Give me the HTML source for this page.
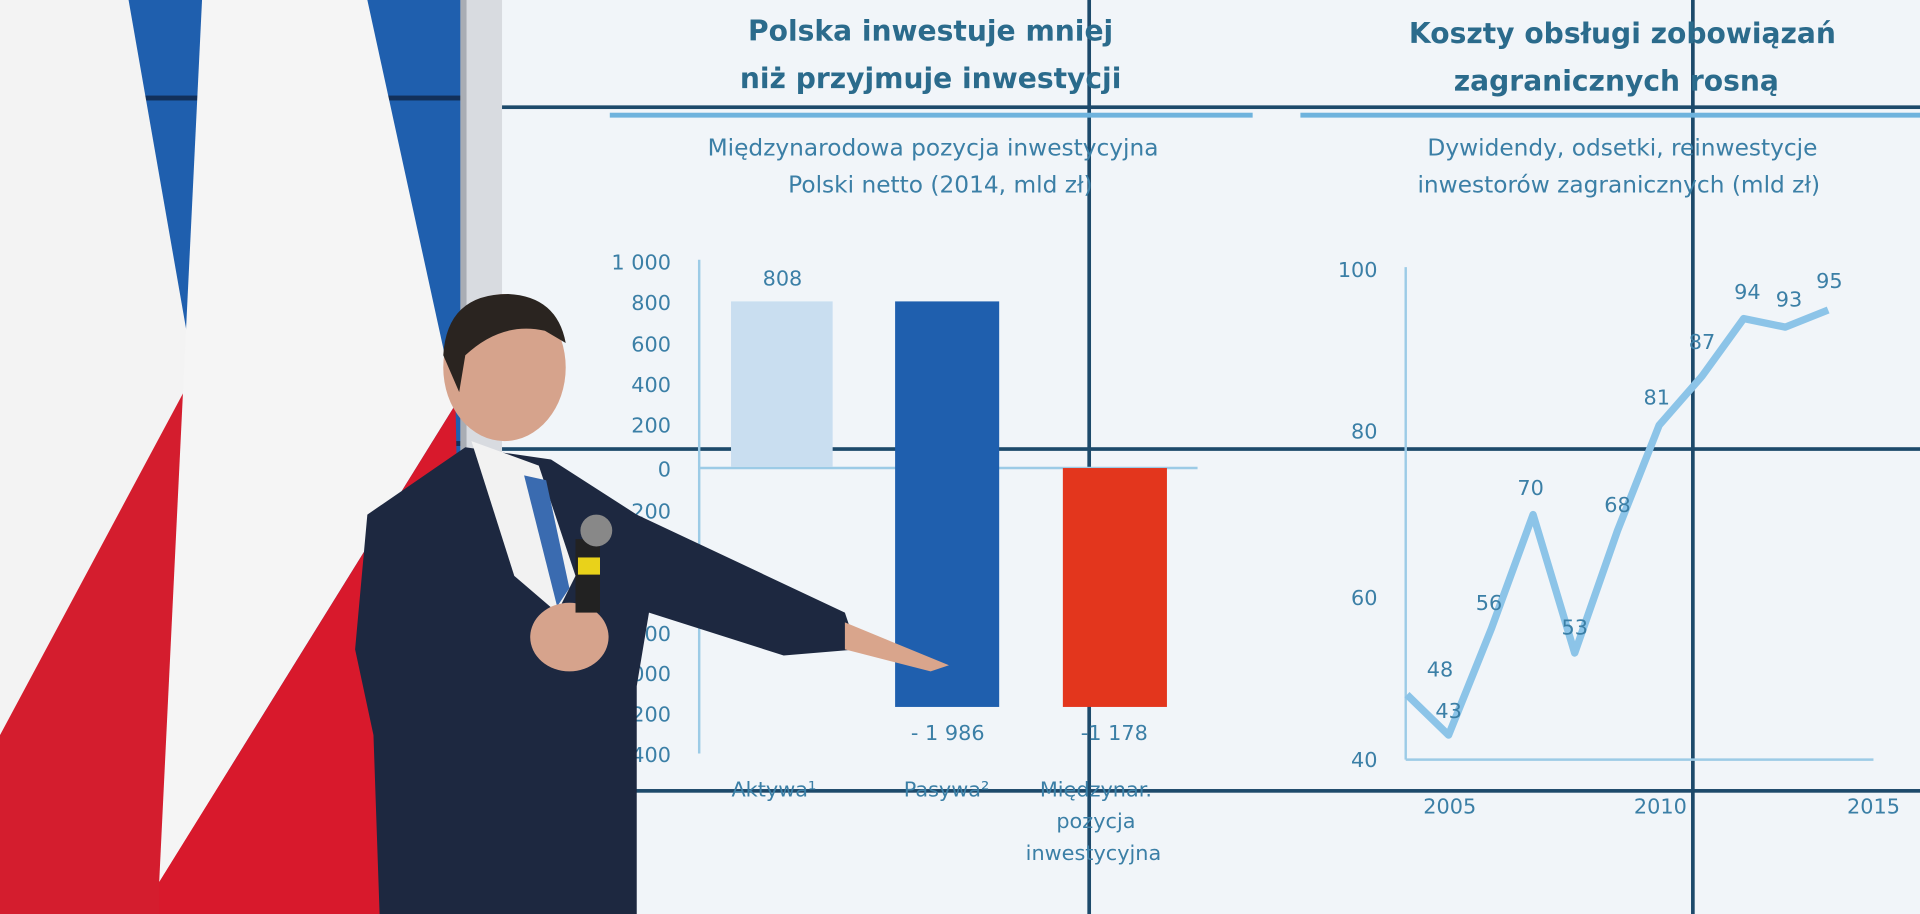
<!DOCTYPE html>
<html><head><meta charset="utf-8"><style>
html,body{margin:0;padding:0;width:1920px;height:914px;overflow:hidden;background:#eef3f7}
svg{display:block}
text{font-family:"DejaVu Sans","Liberation Sans",sans-serif}
</style></head><body>
<svg width="1920" height="914" viewBox="0 0 1568 746" preserveAspectRatio="none">
<rect x="405" y="0" width="1163" height="746" fill="#eef3f7"/>
<rect x="405" y="0" width="1163" height="746" fill="#f4f7fa" opacity="0.6"/>
<rect x="0" y="0" width="380" height="746" fill="#1f5fae"/>
<rect x="0" y="78" width="380" height="4" fill="#12305a"/>
<rect x="0" y="360" width="380" height="4" fill="#12305a"/>
<polygon points="0,0 105,0 175,400 0,600" fill="#f3f3f3"/>
<polygon points="0,600 150,320 185,430 185,746 0,746" fill="#d41d2e"/>
<polygon points="165,0 300,0 372,330 130,720" fill="#f5f5f5"/>
<polygon points="130,720 372,330 380,746 130,746" fill="#d8192c"/>
<rect x="376" y="0" width="34" height="746" fill="#d8dbe0"/>
<rect x="376" y="0" width="5" height="746" fill="#a9adb4"/>
<g fill="#1d4a6b">
<rect x="410" y="86" width="1158" height="3"/>
<rect x="410" y="365" width="1158" height="3"/>
<rect x="410" y="644" width="1158" height="3"/>
<rect x="888" y="0" width="3" height="746"/>
<rect x="1381" y="0" width="3" height="746"/>
</g>
<g fill="#2b6b8c" font-weight="bold" font-size="23" text-anchor="middle">
<text x="760" y="33">Polska inwestuje mniej</text>
<text x="760" y="72">niż przyjmuje inwestycji</text>
<text x="1325" y="35">Koszty obsługi zobowiązań</text>
<text x="1320" y="74">zagranicznych rosną</text>
</g>
<rect x="498" y="92" width="525" height="4" fill="#6fb3dd"/>
<rect x="1062" y="92" width="506" height="4" fill="#6fb3dd"/>
<g fill="#3b7fa6" font-size="19" text-anchor="middle">
<text x="762" y="127">Międzynarodowa pozycja inwestycyjna</text>
<text x="768" y="157">Polski netto (2014, mld zł)</text>
<text x="1325" y="127">Dywidendy, odsetki, reinwestycje</text>
<text x="1322" y="157">inwestorów zagranicznych (mld zł)</text>
</g>
<line x1="571" y1="212" x2="571" y2="615" stroke="#9ccbe6" stroke-width="2"/>
<line x1="571" y1="382" x2="978" y2="382" stroke="#9ccbe6" stroke-width="2"/>
<g fill="#3b7fa6" font-size="17" text-anchor="end">
<text x="548" y="220">1 000</text><text x="548" y="253">800</text><text x="548" y="287">600</text>
<text x="548" y="320">400</text><text x="548" y="353">200</text><text x="548" y="389">0</text>
<text x="548" y="423">-200</text><text x="548" y="523">-800</text><text x="548" y="556">-1 000</text>
<text x="548" y="589">-1 200</text><text x="548" y="622">-1 400</text>
</g>
<rect x="597" y="246" width="83" height="135" fill="#c9def0"/>
<rect x="731" y="246" width="85" height="331" fill="#1f5fae"/>
<rect x="868" y="382" width="85" height="195" fill="#e3361d"/>
<g fill="#3b7fa6" font-size="17" text-anchor="middle">
<text x="639" y="233">808</text><text x="774" y="604">- 1 986</text><text x="910" y="604">-1 178</text>
<text x="632" y="650">Aktywa¹</text><text x="773" y="650">Pasywa²</text>
<text x="895" y="650">Międzynar.</text><text x="895" y="676">pozycja</text><text x="893" y="702">inwestycyjna</text>
</g>
<line x1="1148" y1="218" x2="1148" y2="620" stroke="#9ccbe6" stroke-width="2"/>
<line x1="1148" y1="620" x2="1530" y2="620" stroke="#9ccbe6" stroke-width="2"/>
<g fill="#3b7fa6" font-size="17" text-anchor="end">
<text x="1125" y="226">100</text><text x="1125" y="358">80</text><text x="1125" y="494">60</text><text x="1125" y="626">40</text>
</g>
<g fill="#3b7fa6" font-size="17" text-anchor="middle">
<text x="1184" y="664">2005</text><text x="1356" y="664">2010</text><text x="1530" y="664">2015</text>
</g>
<polyline fill="none" stroke="#8cc4e8" stroke-width="6" stroke-linejoin="round"
points="1149,567 1183,600 1218,513 1252,420 1286,533 1321,433 1355,347 1390,307 1424,260 1458,267 1493,253"/>
<g fill="#3b7fa6" font-size="17" text-anchor="middle">
<text x="1176" y="552">48</text><text x="1183" y="586">43</text><text x="1216" y="498">56</text>
<text x="1250" y="404">70</text><text x="1286" y="518">53</text><text x="1321" y="418">68</text>
<text x="1353" y="330">81</text><text x="1390" y="285">87</text><text x="1427" y="244">94</text>
<text x="1461" y="250">93</text><text x="1494" y="235">95</text>
</g>
<polygon points="300,420 380,365 450,375 520,420 690,500 700,530 640,535 530,500 520,560 520,746 310,746 305,600 290,530" fill="#1d2840"/>
<polygon points="385,360 440,380 470,470 455,500 420,470" fill="#f2f2f2"/>
<polygon points="428,388 446,392 465,480 455,495" fill="#3a6bb0"/>
<path d="M690,508 L775,543 L760,548 L690,530 Z" fill="#d9a58c"/>
<ellipse cx="412" cy="300" rx="50" ry="60" fill="#d6a38c"/>
<path d="M362,290 Q365,240 415,240 Q455,242 462,280 L445,270 Q410,262 380,290 L375,320 Z" fill="#2a2420"/>
<ellipse cx="465" cy="520" rx="32" ry="28" fill="#d6a38c"/>
<rect x="470" y="440" width="20" height="60" fill="#222"/>
<rect x="472" y="455" width="18" height="14" fill="#e9d21a"/>
<ellipse cx="487" cy="433" rx="13" ry="13" fill="#888"/>
</svg>
</body></html>
